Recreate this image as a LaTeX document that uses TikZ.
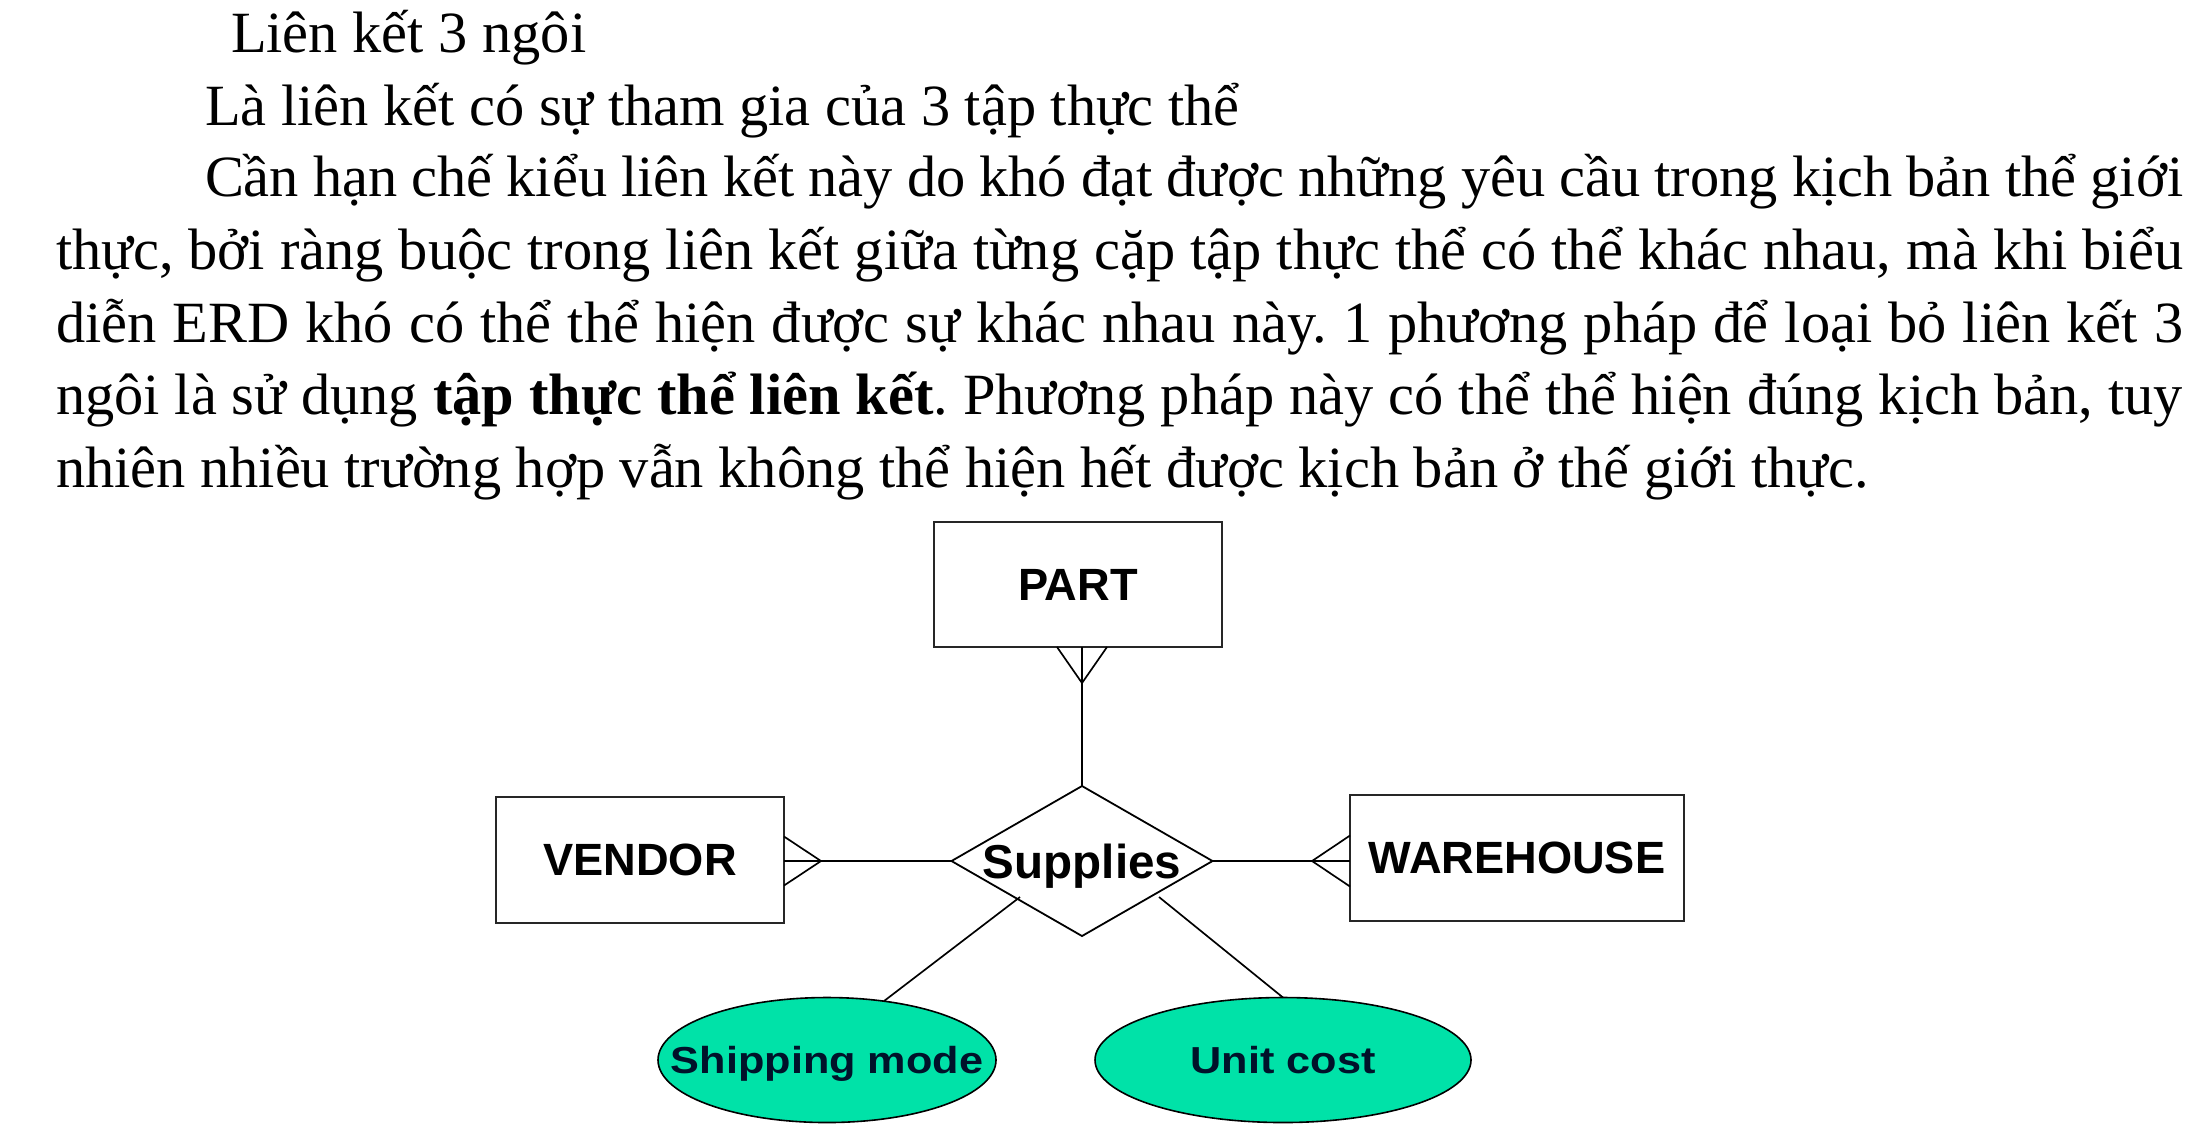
\documentclass[tikz,border=0pt]{standalone}
\usepackage{fontspec}
\setmainfont{Liberation Serif}
\newfontfamily\lsans{Liberation Sans}
\usetikzlibrary{shapes.geometric,calc}
\definecolor{attrfill}{RGB}{0,226,168}
\definecolor{attrtext}{RGB}{0,18,42}
\frenchspacing
\begin{document}
\begin{tikzpicture}[x=0.25pt,y=-0.25pt,
  body/.style={anchor=base west,inner sep=0pt,outer sep=0pt,font=\fontsize{14.6}{17}\selectfont},
  entity/.style={draw=black!85,line width=0.55pt,rectangle,minimum height=31.5pt,inner sep=0pt,outer sep=0pt,text depth=0pt,font=\lsans\bfseries\fontsize{11.3}{13}\selectfont},
  rel/.style={draw,diamond,line width=0.45pt,minimum width=65.25pt,minimum height=37.5pt,inner sep=0pt,outer sep=0pt,aspect=1.74,text depth=0pt,font=\lsans\bfseries\fontsize{11.9}{13}\selectfont},
  attr/.style={draw,ellipse,fill=attrfill,line width=0.4pt,minimum height=31.25pt,inner sep=0pt,outer sep=0pt,text=attrtext,text depth=0pt,font=\lsans\bfseries\fontsize{9.4}{11}\selectfont},
  conn/.style={line width=0.42pt}]
\useasboundingbox (0,0) rectangle (2212,1138);
% body text
\node[body] (t1) at (231,52) {Liên kết 3 ngôi};
\node[body] (t2) at (205,125) {Là liên kết có sự tham gia của 3 tập thực thể};
\node[body] (t3) at (205,196) {\makebox[494.5pt][s]{Cần hạn chế kiểu liên kết này do khó đạt được những yêu cầu trong kịch bản thể giới}};
\node[body] (t4) at (56,269) {\makebox[531.75pt][s]{thực, bởi ràng buộc trong liên kết giữa từng cặp tập thực thể có thể khác nhau, mà khi biểu}};
\node[body] (t5) at (56,342) {\makebox[531.75pt][s]{diễn ERD khó có thể thể hiện được sự khác nhau này. 1 phương pháp để loại bỏ liên kết 3}};
\node[body] (t6) at (56,414) {\makebox[531.75pt][s]{ngôi là sử dụng \textbf{tập thực thể liên kết}. Phương pháp này có thể thể hiện đúng kịch bản, tuy}};
\node[body] (t7) at (56,487) {nhiên nhiều trường hợp vẫn không thể hiện hết được kịch bản ở thế giới thực.};
% diagram
\node[entity,minimum width=72pt,minimum height=31.25pt] (part) at (1078,584.5) {PART};
\node[entity,minimum width=72pt] (vendor) at (640,860) {VENDOR};
\node[entity,minimum width=83.5pt] (wh) at (1517,858) {WAREHOUSE};
\node[rel] (sup) at (1082,861) {\makebox[0pt]{Supplies}};
\node[attr,minimum width=84.5pt] (ship) at (827,1060) {\makebox[0pt]{\scalebox{1.15}[1]{Shipping mode}}};
\node[attr,minimum width=94pt] (unit) at (1283,1060) {\makebox[0pt]{\scalebox{1.15}[1]{Unit cost}}};
% PART connector
\coordinate (pj) at (part.south -| sup.north);
\draw[conn] (pj) -- (sup.north);
\draw[conn] ($(pj)+(-25,0)$) -- ($(pj)+(0,36)$) -- ($(pj)+(25,0)$);
% VENDOR connector
\coordinate (vj) at (vendor.east |- sup.west);
\draw[conn] (vj) -- (sup.west);
\draw[conn] ($(vj)+(0,-24.5)$) -- ($(vj)+(37,0)$) -- ($(vj)+(0,24.5)$);
% WAREHOUSE connector
\coordinate (wj) at (wh.west |- sup.east);
\draw[conn] (sup.east) -- (wj);
\draw[conn] ($(wj)+(0,-25.5)$) -- ($(wj)+(-38,0)$) -- ($(wj)+(0,25.5)$);
% attribute connectors
\coordinate (sa) at (1020,897);
\draw[conn] (sa) -- (ship.46);
\coordinate (ua) at (1159,897);
\draw[conn] (ua) -- (unit.north);
\end{tikzpicture}
\end{document}
